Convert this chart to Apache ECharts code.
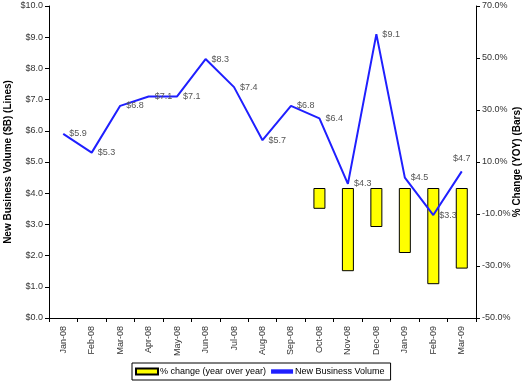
<!DOCTYPE html>
<html><head><meta charset="utf-8">
<script src="https://cdn.jsdelivr.net/npm/echarts@6/dist/echarts.min.js"></script>
<style>html,body{margin:0;padding:0;background:#fff}#c{width:526px;height:385px}</style>
</head><body><div id="c"></div>
<script>
const categories = ['Jan-08','Feb-08','Mar-08','Apr-08','May-08','Jun-08','Jul-08','Aug-08','Sep-08','Oct-08','Nov-08','Dec-08','Jan-09','Feb-09','Mar-09'];
const volume = [5.9, 5.3, 6.8, 7.1, 7.1, 8.3, 7.4, 5.7, 6.8, 6.4, 4.3, 9.1, 4.5, 3.3, 4.7];
const pctChange = [null, null, null, null, null, null, null, null, null, -8, -32, -15, -25, -37, -31];

const chart = echarts.init(document.getElementById('c'), null, {renderer: 'canvas'});
const font = 'Liberation Sans, Arial, sans-serif';
const lineData = volume.map((v, i) => i === volume.length - 1
  ? {value: v, label: {position: 'top', distance: 8}}
  : v);
chart.setOption({
  animation: false,
  textStyle: {fontFamily: font},
  grid: {left: 49, right: 50, top: 6, bottom: 67, containLabel: false, outerBoundsMode: 'none'},
  legend: {
    top: 363, left: 132,
    data: [
      {name: '% change (year over year)', icon: 'rect'},
      {name: 'New Business Volume', icon: 'path://M0,0 L10,0 L10,2 L0,2 Z'}
    ],
    itemWidth: 22, itemHeight: 6, itemGap: 5,
    borderColor: '#000', borderWidth: 1, borderRadius: 0,
    padding: [4, 6, 4, 3],
    textStyle: {fontSize: 9, color: '#000', fontFamily: font, padding: [0, 0, 0, -3]}
  },
  xAxis: {
    type: 'category', data: categories, boundaryGap: true,
    axisLine: {lineStyle: {color: '#000', width: 1}},
    axisTick: {show: true, alignWithLabel: false, length: 4, lineStyle: {color: '#000'}},
    axisLabel: {rotate: 90, fontSize: 9, color: '#333', margin: 8, interval: 0}
  },
  yAxis: [
    {
      type: 'value', min: 0, max: 10, interval: 1, position: 'left',
      name: 'New Business Volume ($B) (Lines)', nameLocation: 'middle', nameGap: 36, nameRotate: 90,
      nameMoveOverlap: false,
      nameTextStyle: {fontWeight: 'bold', fontSize: 10, color: '#000'},
      axisLine: {show: true, lineStyle: {color: '#000'}},
      axisTick: {show: true, length: 4, lineStyle: {color: '#000'}},
      splitLine: {show: false},
      axisLabel: {fontSize: 9, color: '#333', margin: 6, formatter: v => '$' + v.toFixed(1)}
    },
    {
      type: 'value', min: -50, max: 70, interval: 20, position: 'right',
      name: '% Change (YOY) (Bars)', nameLocation: 'middle', nameGap: 36, nameRotate: 90,
      nameMoveOverlap: false,
      nameTextStyle: {fontWeight: 'bold', fontSize: 10, color: '#000'},
      axisLine: {show: true, lineStyle: {color: '#000'}},
      axisTick: {show: true, length: 4, lineStyle: {color: '#000'}},
      splitLine: {show: false},
      axisLabel: {fontSize: 9, color: '#333', margin: 6, formatter: v => v.toFixed(1) + '%'}
    }
  ],
  series: [
    {
      name: '% change (year over year)', type: 'bar', yAxisIndex: 1, data: pctChange,
      barWidth: 12,
      itemStyle: {color: '#ffff00', borderColor: '#000', borderWidth: 1}
    },
    {
      name: 'New Business Volume', type: 'line', yAxisIndex: 0, data: lineData,
      symbol: 'circle', symbolSize: 0.01, showSymbol: true,
      lineStyle: {color: '#1f1fff', width: 2},
      itemStyle: {color: '#1f1fff'},
      label: {show: true, position: 'right', distance: 6, fontSize: 9, color: '#555',
        formatter: p => '$' + p.value.toFixed(1)},
      labelLayout: {hideOverlap: false}
    }
  ]
});
</script></body></html>
